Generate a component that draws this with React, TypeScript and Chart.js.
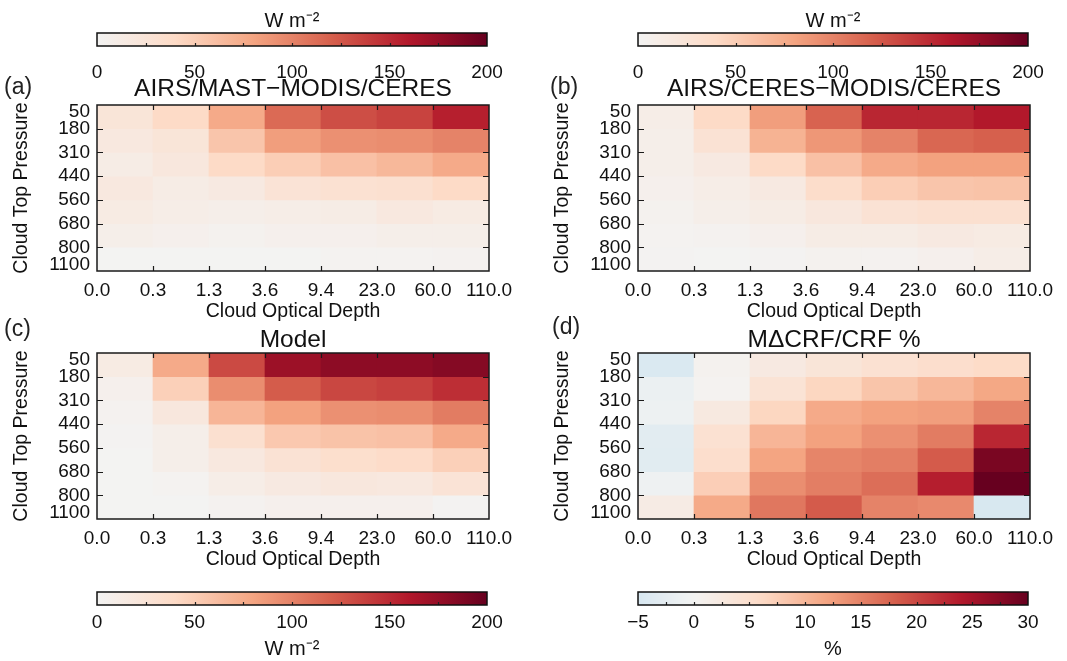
import React, { useEffect, useRef } from "react";
import { Chart, registerables } from "chart.js";

Chart.register(...registerables);

const FONT = "'Liberation Sans', Arial, Helvetica, sans-serif";

// ---------- data ----------
const opticalDepthLabels = ["0.0", "0.3", "1.3", "3.6", "9.4", "23.0", "60.0", "110.0"];
const pressureLabels = ["50", "180", "310", "440", "560", "680", "800", "1100"];

// rows: top (50-180 hPa) to bottom (800-1100 hPa); columns: optical depth bins
const airsMastModisCeres = [
  [24, 40, 76, 114, 130, 136, 156],
  [18, 24, 56, 84, 92, 94, 100],
  [12, 20, 40, 50, 60, 66, 76],
  [18, 12, 16, 26, 30, 32, 40],
  [14, 10, 8, 10, 12, 18, 14],
  [8, 6, 4, 6, 6, 8, 8],
  [0, 0, 0, 0, 2, 2, 3],
];

const airsCeresModisCeres = [
  [10, 40, 84, 118, 152, 152, 160],
  [8, 28, 70, 88, 100, 116, 120],
  [8, 16, 40, 60, 76, 82, 82],
  [6, 10, 16, 36, 50, 56, 58],
  [4, 8, 12, 20, 28, 32, 32],
  [2, 3, 6, 12, 12, 16, 14],
  [1, 0, 1, 4, 3, 6, 10],
];

const modelValues = [
  [14, 76, 132, 172, 180, 180, 184],
  [6, 48, 94, 122, 134, 138, 148],
  [3, 20, 68, 82, 92, 94, 104],
  [1, 8, 32, 54, 58, 60, 76],
  [0, 8, 18, 28, 34, 38, 48],
  [0, 2, 10, 16, 20, 18, 26],
  [0, 0, 3, 6, 6, 6, 1],
];

const modelDeltaPercent = [
  [-4.5, 0.5, 2.4, 3.6, 4.5, 5.2, 5.8],
  [-1.5, 0.3, 4.0, 6.5, 8.5, 10.0, 11.7],
  [-1.0, 2.5, 6.5, 11.4, 12.3, 12.6, 15.0],
  [-3.0, 4.5, 10.2, 12.3, 13.8, 15.6, 22.8],
  [-3.2, 5.2, 12.0, 14.8, 15.4, 18.4, 28.5],
  [-0.8, 7.4, 14.0, 15.4, 16.8, 23.5, 30.0],
  [2.0, 11.5, 16.0, 18.4, 15.0, 14.4, -4.8],
];

const wattTicks = [0, 50, 100, 150, 200];
const percentTicks = [-5, 0, 5, 10, 15, 20, 25, 30];

// ---------- colour map (RdBu reversed) ----------
const colorStops: [number, number[]][] = [
  [-1.0, [5, 48, 97]],
  [-0.8, [33, 102, 172]],
  [-0.6, [67, 147, 195]],
  [-0.4, [146, 197, 222]],
  [-0.2, [209, 229, 240]],
  [0.0, [243, 243, 242]],
  [0.2, [253, 219, 199]],
  [0.4, [244, 165, 130]],
  [0.6, [214, 96, 77]],
  [0.8, [178, 24, 43]],
  [1.0, [103, 0, 31]],
];

function colorFor(v: number, vmax: number): string {
  let t = v / vmax;
  if (t < -1) t = -1;
  if (t > 1) t = 1;
  for (let i = 0; i < colorStops.length - 1; i++) {
    const [t0, c0] = colorStops[i];
    const [t1, c1] = colorStops[i + 1];
    if (t >= t0 && t <= t1) {
      const f = (t - t0) / (t1 - t0);
      const c = c0.map((x, k) => Math.round(x + (c1[k] - x) * f));
      return `rgb(${c[0]},${c[1]},${c[2]})`;
    }
  }
  const c = colorStops[colorStops.length - 1][1];
  return `rgb(${c[0]},${c[1]},${c[2]})`;
}

// ---------- plugins ----------
const panelDecor = {
  id: "panelDecor",
  afterDatasetsDraw(chart: any, _args: any, opts: any) {
    const { ctx, chartArea: a, scales } = chart;
    const xs = scales.x;
    const ys = scales.y;
    ctx.save();
    ctx.strokeStyle = "#1a1a1a";
    ctx.lineWidth = 1.2;
    ctx.beginPath();
    for (let i = 1; i < opticalDepthLabels.length - 1; i++) {
      const px = Math.round(xs.getPixelForValue(i)) + 0.5;
      ctx.moveTo(px, a.bottom);
      ctx.lineTo(px, a.bottom - 5);
      ctx.moveTo(px, a.top);
      ctx.lineTo(px, a.top + 5);
    }
    for (let i = 1; i < pressureLabels.length - 1; i++) {
      const py = Math.round(ys.getPixelForValue(i)) + 0.5;
      ctx.moveTo(a.left, py);
      ctx.lineTo(a.left + 6, py);
      ctx.moveTo(a.right, py);
      ctx.lineTo(a.right - 6, py);
    }
    ctx.stroke();
    ctx.lineWidth = 1.5;
    ctx.strokeRect(a.left, a.top, a.right - a.left, a.bottom - a.top);

    ctx.fillStyle = "#111";
    ctx.font = `19px ${FONT}`;
    ctx.textAlign = "right";
    ctx.textBaseline = "middle";
    const last = pressureLabels.length - 1;
    pressureLabels.forEach((lab, i) => {
      let py = ys.getPixelForValue(i);
      if (i === 0) py += 7;
      if (i === last) py -= 6;
      ctx.fillText(lab, a.left - 7, py);
    });

    ctx.font = `23px ${FONT}`;
    ctx.textAlign = "left";
    ctx.fillStyle = "#222";
    ctx.fillText(opts.letter, opts.letterX, opts.letterY);
    ctx.restore();
  },
};

const colorbarDecor = {
  id: "colorbarDecor",
  afterDatasetsDraw(chart: any, _args: any, opts: any) {
    const { ctx, chartArea: a, scales } = chart;
    const xs = scales.x;
    const ticks: number[] = opts.ticks;
    ctx.save();
    ctx.strokeStyle = "#222";
    ctx.lineWidth = 1.2;
    ctx.beginPath();
    for (let i = 0; i < ticks.length - 1; i++) {
      const mids = [ticks[i], (ticks[i] + ticks[i + 1]) / 2];
      mids.forEach((v, k) => {
        if (i === 0 && k === 0) return;
        const px = Math.round(xs.getPixelForValue(v)) + 0.5;
        ctx.moveTo(px, a.bottom);
        ctx.lineTo(px, a.bottom - 3);
      });
    }
    ctx.stroke();
    ctx.strokeStyle = "#111";
    ctx.lineWidth = 1.5;
    ctx.strokeRect(a.left, a.top, a.right - a.left, a.bottom - a.top);
    ctx.restore();
  },
};

// ---------- components ----------
type PanelProps = {
  left: number;
  top: number;
  width: number;
  values: number[][];
  vmax: number;
  title: string;
  letter: string;
  letterX: number;
  letterY: number;
  titleCenter: number;
};

const PANEL_H = 264;
const AREA_TOP = 45;
const AREA_BOTTOM = 211;
const AREA_LEFT = 97;

function HeatPanel(p: PanelProps) {
  const ref = useRef<HTMLCanvasElement | null>(null);
  useEffect(() => {
    if (!ref.current) return;
    const titleSize = 24.5;
    const padTop = p.titleCenter - titleSize / 2;
    const titleGap = AREA_TOP - padTop - titleSize;
    const padRight = p.width - (AREA_LEFT + 392);
    const datasets = p.values.map((row, r) => ({
      label: `${pressureLabels[r]}-${pressureLabels[r + 1]}`,
      data: row.map((_v, c) => ({ x: c + 0.5, y: [r, r + 1] })),
      backgroundColor: row.map((v) => colorFor(v, p.vmax)),
      borderWidth: 0,
      grouped: false,
      barPercentage: 1,
      categoryPercentage: 1,
    }));
    const chart = new Chart(ref.current, {
      type: "bar",
      data: { datasets } as any,
      options: {
        animation: false,
        responsive: false,
        maintainAspectRatio: false,
        events: [],
        layout: { padding: { left: 0, right: padRight, top: padTop, bottom: 0 } },
        plugins: {
          legend: { display: false },
          tooltip: { enabled: false },
          title: {
            display: true,
            text: p.title,
            fullSize: false,
            color: "#111",
            font: { family: FONT, size: titleSize, lineHeight: 1, weight: "normal" },
            padding: { top: 0, bottom: titleGap },
          },
          panelDecor: { letter: p.letter, letterX: p.letterX, letterY: p.letterY },
        } as any,
        scales: {
          x: {
            type: "linear",
            min: 0,
            max: opticalDepthLabels.length - 1,
            offset: false,
            grid: { display: false, drawTicks: false },
            border: { display: false },
            afterBuildTicks: (s: any) => {
              s.ticks = opticalDepthLabels.map((_l, i) => ({ value: i }));
            },
            ticks: {
              autoSkip: false,
              maxRotation: 0,
              minRotation: 0,
              padding: 8,
              color: "#111",
              font: { family: FONT, size: 19 },
              callback: (_v: any, i: number) => opticalDepthLabels[i],
            },
            title: {
              display: true,
              text: "Cloud Optical Depth",
              color: "#111",
              font: { family: FONT, size: 19.5 },
              padding: { top: 0, bottom: 0.5 },
            },
            afterFit: (s: any) => {
              s.height = PANEL_H - AREA_BOTTOM;
            },
          },
          y: {
            type: "linear",
            min: 0,
            max: pressureLabels.length - 1,
            reverse: true,
            grid: { display: false, drawTicks: false },
            border: { display: false },
            ticks: { display: false },
            title: {
              display: true,
              text: "Cloud Top Pressure",
              color: "#111",
              font: { family: FONT, size: 19.5 },
              padding: { top: 9.5, bottom: 0 },
            },
            afterFit: (s: any) => {
              s.width = AREA_LEFT;
            },
          },
        } as any,
      },
      plugins: [panelDecor as any],
    });
    return () => chart.destroy();
  }, []);
  return (
    <canvas
      ref={ref}
      width={p.width}
      height={PANEL_H}
      style={{ position: "absolute", left: p.left, top: p.top, width: p.width, height: PANEL_H }}
    />
  );
}

type BarProps = {
  left: number;
  top: number;
  width: number;
  height: number;
  ticks: number[];
  vmax: number;
  unit: string;
  unitOnTop: boolean;
  barTop: number;
  barBottom: number;
  labelCenter: number;
  unitCenter: number;
};

function Colorbar(p: BarProps) {
  const ref = useRef<HTMLCanvasElement | null>(null);
  useEffect(() => {
    if (!ref.current) return;
    const lo = p.ticks[0];
    const hi = p.ticks[p.ticks.length - 1];
    const unitSize = 20;
    const padRight = p.width - (AREA_LEFT + 390);
    let padTop = p.barTop;
    let titleGap = 0;
    if (p.unitOnTop) {
      padTop = p.unitCenter - unitSize / 2;
      titleGap = p.barTop - padTop - unitSize;
    }
    const tickSize = 19;
    const tickPad = p.labelCenter - p.barBottom - (tickSize * 1.2) / 2;
    const gradientFill = (c: any) => {
      const chart = c.chart;
      const area = chart.chartArea;
      if (!area) return colorFor(0, p.vmax);
      const g = chart.ctx.createLinearGradient(area.left, 0, area.right, 0);
      const n = 40;
      for (let i = 0; i <= n; i++) {
        const v = lo + ((hi - lo) * i) / n;
        g.addColorStop(i / n, colorFor(v, p.vmax));
      }
      return g;
    };
    const chart = new Chart(ref.current, {
      type: "bar",
      data: {
        labels: [p.unit],
        datasets: [
          {
            data: [[lo, hi]],
            backgroundColor: gradientFill,
            borderWidth: 0,
            barPercentage: 1,
            categoryPercentage: 1,
          },
        ],
      } as any,
      options: {
        indexAxis: "y",
        animation: false,
        responsive: false,
        maintainAspectRatio: false,
        events: [],
        layout: { padding: { left: AREA_LEFT, right: padRight, top: padTop, bottom: 0 } },
        plugins: {
          legend: { display: false },
          tooltip: { enabled: false },
          title: {
            display: p.unitOnTop,
            text: p.unit,
            fullSize: false,
            color: "#111",
            font: { family: FONT, size: unitSize, lineHeight: 1, weight: "normal" },
            padding: { top: 0, bottom: titleGap },
          },
          colorbarDecor: { ticks: p.ticks },
        } as any,
        scales: {
          x: {
            type: "linear",
            min: lo,
            max: hi,
            grid: { display: false, drawTicks: false },
            border: { display: false },
            afterBuildTicks: (s: any) => {
              s.ticks = p.ticks.map((v) => ({ value: v }));
            },
            ticks: {
              autoSkip: false,
              maxRotation: 0,
              padding: tickPad,
              color: "#111",
              font: { family: FONT, size: tickSize },
              callback: (v: any) => (Number(v) < 0 ? "\u2212" + Math.abs(Number(v)) : String(v)),
            },
            title: {
              display: !p.unitOnTop,
              text: p.unit,
              color: "#111",
              font: { family: FONT, size: unitSize },
              padding: { top: 0, bottom: 0 },
            },
            afterFit: (s: any) => {
              s.height = p.height - p.barBottom;
            },
          },
          y: { display: false },
        } as any,
      },
      plugins: [colorbarDecor as any],
    });
    return () => chart.destroy();
  }, []);
  return (
    <canvas
      ref={ref}
      width={p.width}
      height={p.height}
      style={{ position: "absolute", left: p.left, top: p.top, width: p.width, height: p.height }}
    />
  );
}

export default function App() {
  return (
    <div
      style={{
        position: "absolute",
        left: 0,
        top: 0,
        width: 1067,
        height: 661,
        background: "#fff",
        overflow: "hidden",
      }}
    >
      <Colorbar left={0} top={0} width={530} height={95} ticks={wattTicks} vmax={200} unit={"W m\u207B\u00B2"}
        unitOnTop={true} barTop={33} barBottom={46} labelCenter={73} unitCenter={21.5} />
      <Colorbar left={541} top={0} width={526} height={95} ticks={wattTicks} vmax={200} unit={"W m\u207B\u00B2"}
        unitOnTop={true} barTop={33} barBottom={46} labelCenter={73} unitCenter={21.5} />
      <HeatPanel left={0} top={60} width={530} values={airsMastModisCeres} vmax={200}
        title={"AIRS/MAST\u2212MODIS/CERES"} letter="(a)" letterX={4} letterY={28} titleCenter={29} />
      <HeatPanel left={541} top={60} width={526} values={airsCeresModisCeres} vmax={200}
        title={"AIRS/CERES\u2212MODIS/CERES"} letter="(b)" letterX={9} letterY={28} titleCenter={29} />
      <HeatPanel left={0} top={308} width={530} values={modelValues} vmax={200}
        title="Model" letter="(c)" letterX={4} letterY={22} titleCenter={32} />
      <HeatPanel left={541} top={308} width={526} values={modelDeltaPercent} vmax={30}
        title={"M\u0394CRF/CRF %"} letter="(d)" letterX={11} letterY={20} titleCenter={32} />
      <Colorbar left={0} top={568} width={530} height={93} ticks={wattTicks} vmax={200} unit={"W m\u207B\u00B2"}
        unitOnTop={false} barTop={24} barBottom={37} labelCenter={55} unitCenter={82} />
      <Colorbar left={541} top={568} width={526} height={93} ticks={percentTicks} vmax={30} unit="%"
        unitOnTop={false} barTop={24} barBottom={37} labelCenter={55} unitCenter={82} />
    </div>
  );
}
